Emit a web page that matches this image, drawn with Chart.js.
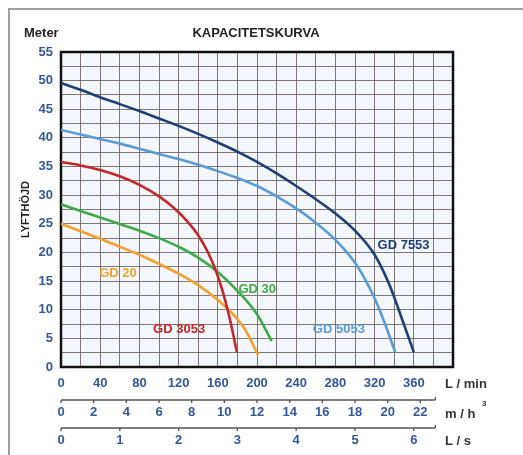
<!DOCTYPE html>
<html>
<head>
<meta charset="utf-8">
<script src="https://cdn.jsdelivr.net/npm/chart.js@4.4.1/dist/chart.umd.min.js"></script>
<style>
  html, body { margin: 0; padding: 0; background: #fff; }
</style>
</head>
<body>
<canvas id="chart" width="523" height="455"></canvas>
<script>
// data (flow in L/min, head in meter)
const seriesNames  = ['GD 7553', 'GD 5053', 'GD 3053', 'GD 30', 'GD 20'];
const seriesColors = ['#1f3e75', '#5b9bd5', '#c1272d', '#3fa94a', '#f3a02e'];

const flow7553 = [0, 20, 40, 60, 80, 100, 120, 140, 160, 180, 200, 220, 240, 260, 280, 300, 320, 335, 350, 360];
const head7553 = [49.6, 48.4, 47.1, 45.9, 44.7, 43.4, 42.1, 40.7, 39.2, 37.6, 35.8, 33.8, 31.6, 29.3, 26.8, 23.8, 19.6, 14.4, 7.4, 2.6];

const flow5053 = [0, 20, 40, 60, 80, 100, 120, 140, 160, 180, 200, 220, 240, 260, 280, 300, 310, 320, 330, 341];
const head5053 = [41.4, 40.6, 39.8, 39.0, 38.1, 37.2, 36.3, 35.3, 34.2, 33.0, 31.6, 29.8, 27.7, 25.2, 22.2, 18.2, 15.4, 12.0, 7.8, 2.6];

const flow3053 = [0, 20, 40, 60, 80, 100, 115, 130, 140, 150, 158, 165, 172, 179.5];
const head3053 = [35.8, 35.2, 34.4, 33.3, 31.8, 29.8, 27.8, 25.2, 23.0, 20.0, 16.8, 13.2, 8.6, 2.6];

const flow30 = [0, 20, 40, 60, 80, 100, 120, 140, 160, 180, 200, 215];
const head30 = [28.4, 27.25, 26.1, 24.95, 23.8, 22.5, 21.0, 19.1, 16.6, 13.3, 9.2, 4.5];

const flow20 = [0, 20, 40, 60, 80, 100, 120, 140, 160, 175, 188, 201];
const head20 = [25.0, 23.7, 22.4, 21.0, 19.6, 18.0, 16.3, 14.3, 11.7, 9.3, 6.5, 2.1];

// tick labels
const headTicks = [0, 5, 10, 15, 20, 25, 30, 35, 40, 45, 50, 55];
const lpmTicks  = [0, 40, 80, 120, 160, 200, 240, 280, 320, 360];
const m3hTicks  = [0, 2, 4, 6, 8, 10, 12, 14, 16, 18, 20, 22];
const lsTicks   = [0, 1, 2, 3, 4, 5, 6];

// where the curve names sit (data units)
const labelFlow = [323, 257, 94, 181, 39];
const labelHead = [21.3, 6.5, 6.5, 13.6, 16.4];

const LPM_PER_M3H = 1000 / 60;
const LPM_PER_LS = 60;
const AXIS_END = 382; // secondary axis lines stop here (L/min)

const FONT = "'Liberation Sans', Arial, sans-serif";
const tickBlue = '#34579b';
const gridColor = 'rgba(105, 95, 95, 0.85)';

const flows = [flow7553, flow5053, flow3053, flow30, flow20];
const heads = [head7553, head5053, head3053, head30, head20];

const datasets = seriesNames.map((name, i) => ({
  label: name,
  data: flows[i].map((f, k) => ({ x: f, y: heads[i][k] })),
  borderColor: seriesColors[i],
  borderWidth: 2.6,
  pointRadius: 0,
  fill: false,
  cubicInterpolationMode: 'monotone'
}));

const drawUnitAxis = (ctx, xs, y, ticks, factor) => {
  ctx.strokeStyle = '#555';
  ctx.lineWidth = 1.4;
  const x0 = xs.getPixelForValue(0);
  const x1 = xs.getPixelForValue(AXIS_END);
  ctx.beginPath();
  ctx.moveTo(x0, y);
  ctx.lineTo(x1, y);
  ctx.moveTo(x1, y);
  ctx.lineTo(x1, y - 3);
  ctx.stroke();
  ctx.fillStyle = tickBlue;
  ctx.font = `bold 13px ${FONT}`;
  ctx.textAlign = 'center';
  ctx.textBaseline = 'middle';
  ticks.forEach(t => {
    const px = xs.getPixelForValue(t * factor);
    ctx.beginPath();
    ctx.moveTo(px, y);
    ctx.lineTo(px, y + 3);
    ctx.stroke();
    ctx.fillText(String(t), px, y + 12);
  });
};

const decorPlugin = {
  id: 'decor',
  beforeDraw(chart) {
    const { ctx, chartArea: a } = chart;
    ctx.save();
    ctx.fillStyle = '#fff';
    ctx.fillRect(0, 0, chart.width, chart.height);
    // outer frame
    ctx.strokeStyle = '#a0a0a0';
    ctx.lineWidth = 2;
    ctx.beginPath();
    ctx.moveTo(9, chart.height);
    ctx.lineTo(9, 9);
    ctx.lineTo(chart.width, 9);
    ctx.stroke();
    // plot background
    ctx.fillStyle = '#f3f7fc';
    ctx.fillRect(a.left, a.top, a.right - a.left, a.bottom - a.top);
    ctx.restore();
  },
  beforeDatasetsDraw(chart) {
    const { ctx, chartArea: a } = chart;
    ctx.save();
    ctx.strokeStyle = '#111';
    ctx.lineWidth = 2.5;
    ctx.strokeRect(a.left, a.top, a.right - a.left, a.bottom - a.top);
    ctx.restore();
  },
  afterDraw(chart) {
    const { ctx } = chart;
    const xs = chart.scales.x, ys = chart.scales.y;
    ctx.save();

    // headings
    ctx.fillStyle = '#222';
    ctx.font = `bold 13px ${FONT}`;
    ctx.textBaseline = 'middle';
    ctx.textAlign = 'left';
    ctx.fillText('Meter', 24, 33);
    ctx.textAlign = 'center';
    ctx.fillText('KAPACITETSKURVA', 256, 33);

    // curve names
    ctx.textAlign = 'left';
    seriesNames.forEach((name, i) => {
      ctx.fillStyle = seriesColors[i];
      ctx.fillText(name, xs.getPixelForValue(labelFlow[i]), ys.getPixelForValue(labelHead[i]));
    });

    // secondary flow axes
    drawUnitAxis(ctx, xs, 400, m3hTicks, LPM_PER_M3H);
    drawUnitAxis(ctx, xs, 428, lsTicks, LPM_PER_LS);

    // unit labels
    ctx.fillStyle = '#333';
    ctx.font = `bold 13px ${FONT}`;
    ctx.textAlign = 'left';
    ctx.textBaseline = 'middle';
    ctx.fillText('L / min', 445, 384);
    ctx.fillText('m / h', 445, 414);
    ctx.fillText('L / s', 445, 441);
    ctx.font = `bold 8px ${FONT}`;
    ctx.fillText('3', 482, 404);
    ctx.restore();
  }
};

new Chart(document.getElementById('chart'), {
  type: 'line',
  data: { datasets },
  plugins: [decorPlugin],
  options: {
    responsive: false,
    animation: false,
    devicePixelRatio: 1,
    layout: { padding: { top: 52, right: 70, left: 0, bottom: 0 } },
    plugins: { legend: { display: false }, tooltip: { enabled: false } },
    scales: {
      x: {
        type: 'linear',
        min: 0,
        max: 400,
        afterFit: s => { s.height = 88; },
        border: { display: false },
        grid: { color: gridColor, lineWidth: 1, drawTicks: false },
        ticks: {
          stepSize: 20,
          autoSkip: false,
          maxRotation: 0,
          minRotation: 0,
          padding: 9,
          color: tickBlue,
          font: { family: FONT, size: 13, weight: 'bold' },
          callback: v => lpmTicks.includes(v) ? String(v) : ''
        }
      },
      y: {
        min: 0,
        max: 55,
        afterFit: s => { s.width = 61; },
        border: { display: false },
        grid: { color: gridColor, lineWidth: 1, drawTicks: false },
        ticks: {
          stepSize: 2.5,
          autoSkip: false,
          padding: 8,
          color: tickBlue,
          font: { family: FONT, size: 13, weight: 'bold' },
          callback: v => headTicks.includes(v) ? String(v) : ''
        },
        title: {
          display: true,
          text: 'LYFTHÖJD',
          color: '#222',
          font: { family: FONT, size: 11, weight: 'bold' },
          padding: { top: 19, bottom: 0 }
        }
      }
    }
  }
});
</script>
</body>
</html>
